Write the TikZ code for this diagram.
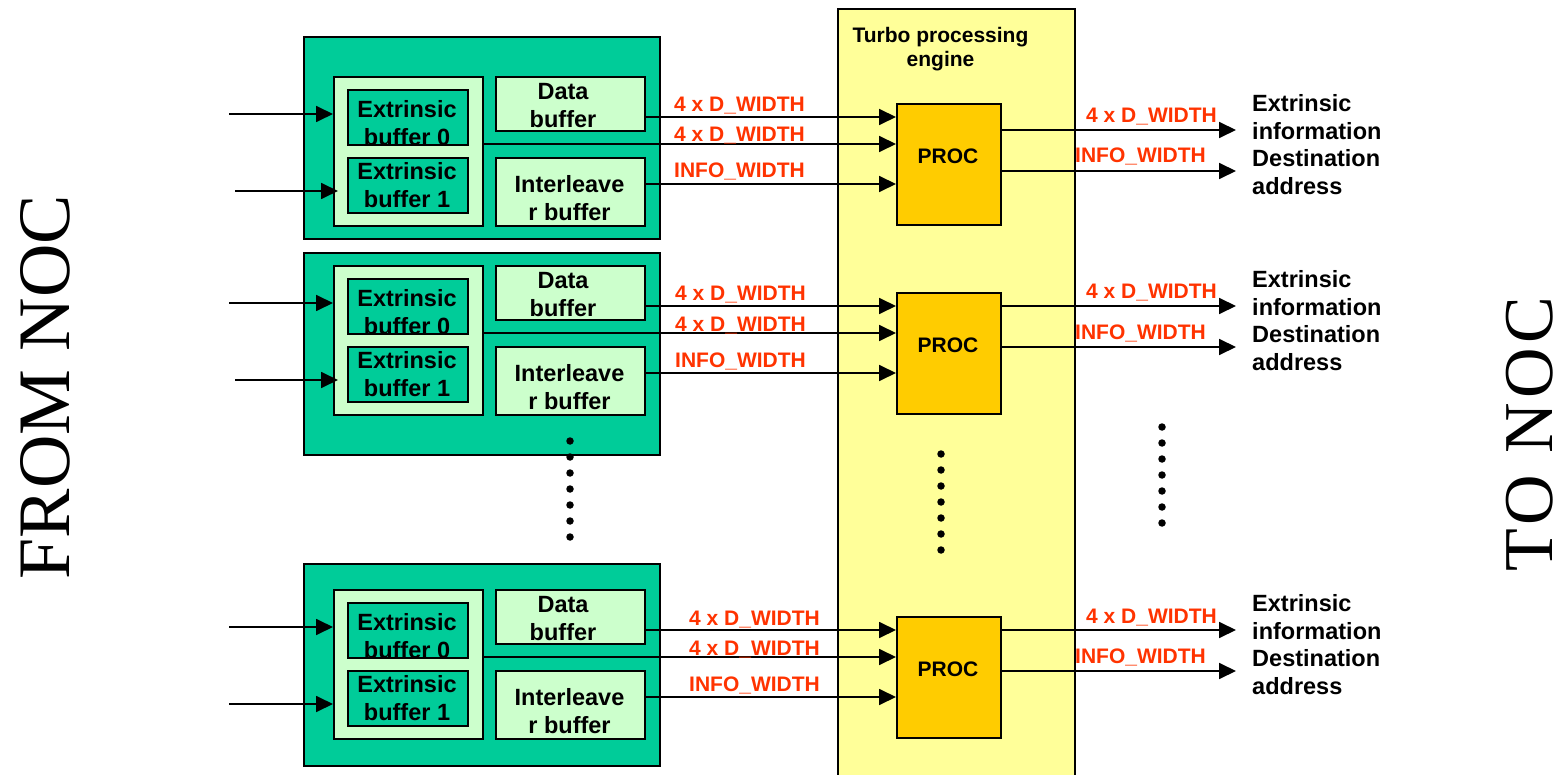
\documentclass[tikz,border=0pt]{standalone}
\usepackage{fontspec}
\setmainfont{Liberation Sans}
\newfontfamily\serifnoc{Liberation Serif}
\newfontfamily\serifwide[LetterSpace=6]{Liberation Serif}
\usetikzlibrary{arrows.meta,calc}
\definecolor{outg}{HTML}{00CC99}
\definecolor{lg}{HTML}{CCFFCC}
\definecolor{yel}{HTML}{FFFF99}
\definecolor{procc}{HTML}{FFCC00}
\definecolor{lab}{HTML}{FF3300}
\tikzset{
 box/.style={draw=black, line width=1.8pt, inner sep=0pt, anchor=north west},
 btext/.style={font=\bfseries\fontsize{23.5}{28}\selectfont, align=center, inner sep=0pt},
 rtext/.style={font=\bfseries\fontsize{23.5}{28}\selectfont, align=left, inner sep=0pt, anchor=west},
 wlab/.style={font=\bfseries\fontsize{21}{24}\selectfont, text=lab, inner sep=0pt, anchor=base west},
 arr/.style={line width=1.8pt, -{Triangle[length=17pt,width=16pt]}},
 dotc/.style={circle, fill=black, inner sep=0pt, minimum size=7.5pt},
 noc/.style={rotate=90, inner sep=0pt},
}
% #1 suffix, #2 inner top, #3 outer top, #4 outer bottom, #5 right output y, #6 label x, #7 arrow2 start x, #8 arrow2 end shift
\newcommand\pblock[8]{%
 \node[box, fill=outg, minimum width=356pt, minimum height={#4-#3}] (o#1) at (303,#3) {};
 \node[box, fill=lg, minimum width=149pt, minimum height=149pt] (g#1) at (333,#2) {};
 \node[box, fill=outg, minimum width=120pt, minimum height=55pt] (e0#1) at (347,#2+13) {};
 \node[box, fill=outg, minimum width=120pt, minimum height=55pt] (e1#1) at (347,#2+81) {};
 \node[box, fill=lg, minimum width=149pt, minimum height=54pt] (d#1) at (495,#2) {};
 \node[box, fill=lg, minimum width=149pt, minimum height=68pt] (i#1) at (495,#2+81) {};
 \node[box, fill=procc, minimum width=104pt, minimum height=121pt] (p#1) at (896,#2+27) {};
 \node[btext] (e0t#1) at (407,#2+47.5) {Extrinsic\\buffer 0};
 \node[btext] (e1t#1) at (407,#2+109.5) {Extrinsic\\buffer 1};
 \node[btext] (dt#1) at (563,#2+29.5) {Data\\buffer};
 \node[btext] (it#1) at (569.5,#2+122.5) {Interleave\\r buffer};
 \node[font=\bfseries\fontsize{21}{24}\selectfont, inner sep=0pt] (pt#1) at (948,#2+80) {PROC};
 \coordinate (ia#1) at (229,#2+38);
 \coordinate (ib#1) at (#7,#2+115);
 \draw[arr] (ia#1) -- (g#1.west |- ia#1);
 \draw[arr] (ib#1) -- ([xshift=#8]g#1.west |- ib#1);
 \coordinate (ya#1) at (0,#2+41);
 \coordinate (yb#1) at (0,#2+68);
 \coordinate (yc#1) at (0,#2+108);
 \draw[arr] (d#1.east |- ya#1) -- (p#1.west |- ya#1);
 \draw[arr] (g#1.east |- yb#1) -- (p#1.west |- yb#1);
 \draw[arr] (i#1.east |- yc#1) -- (p#1.west |- yc#1);
 \coordinate (ra#1) at (1236,#5);
 \coordinate (rb#1) at (1236,#5+41);
 \draw[arr] (p#1.east |- ra#1) -- (ra#1);
 \draw[arr] (p#1.east |- rb#1) -- (rb#1);
 \node[wlab] (la#1) at (#6,#2+36) {4 x D\_WIDTH};
 \node[wlab] (lb#1) at (#6,#2+66) {4 x D\_WIDTH};
 \node[wlab] (lc#1) at (#6,#2+102) {INFO\_WIDTH};
 \node[wlab] (lr#1) at (1086,#5-7) {4 x D\_WIDTH};
 \node[wlab] (ls#1) at (1075,#5+33) {INFO\_WIDTH};
 \node[rtext] (tx#1) at (1252,#5-12.5) {Extrinsic\\information};
 \node[rtext] (td#1) at (1252,#5+42.5) {Destination\\address};
}
\begin{document}
\begin{tikzpicture}[x=1pt,y=-1pt]
\useasboundingbox (0,0) rectangle (1565,775);
\node[box, fill=yel, minimum width=237pt, minimum height=769pt] (eng) at (837,8) {};
\node[font=\bfseries\fontsize{21}{24}\selectfont, align=center, inner sep=0pt] (title) at (940.5,49.5) {Turbo processing\\engine};
\pblock{1}{76}{36}{238}{130}{674}{235}{5pt}
\pblock{2}{265}{252}{454}{306}{675}{235}{5pt}
\pblock{3}{589}{563}{765}{630}{689}{229}{0pt}
\foreach \k in {0,...,6} {
 \node[dotc] (dl\k) at (570,441+16*\k) {};
 \node[dotc] (dm\k) at (941,454+16*\k) {};
 \node[dotc] (dr\k) at (1162,427+16*\k) {};
}
\node[noc, font=\serifnoc\fontsize{74}{80}\selectfont] (from) at (45,387) {FROM NOC};
\node[noc, font=\serifwide\fontsize{70}{80}\selectfont] (to) at (1530,434) {TO NOC};
\end{tikzpicture}
\end{document}
